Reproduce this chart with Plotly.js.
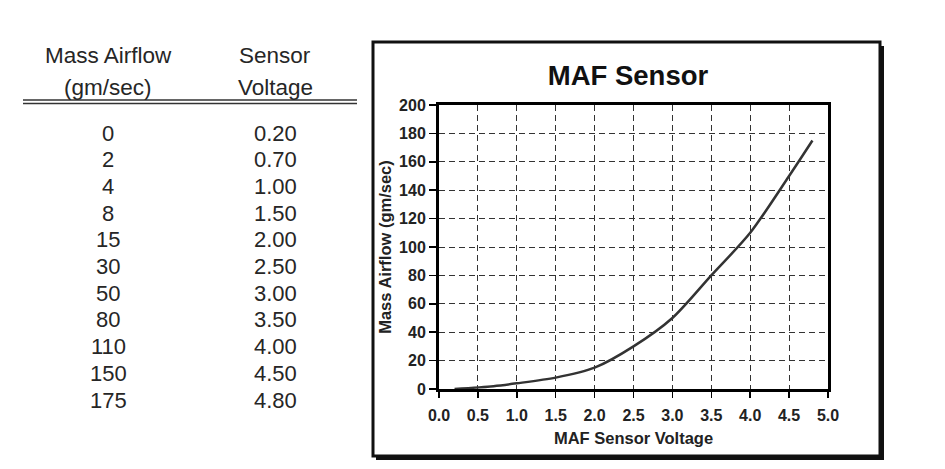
<!DOCTYPE html>
<html>
<head>
<meta charset="utf-8">
<script src="https://cdn.plot.ly/plotly-3.0.1.min.js"></script>
<style>html,body{margin:0;padding:0;background:#fff;}#chart{width:945px;height:469px;}</style>
</head>
<body>
<div id="chart"></div>
<script>
// ---- data ----
const massAirflow = [0, 2, 4, 8, 15, 30, 50, 80, 110, 150, 175];
const sensorVoltage = [0.20, 0.70, 1.00, 1.50, 2.00, 2.50, 3.00, 3.50, 4.00, 4.50, 4.80];
const tableHeaders = [["Mass Airflow", "(gm/sec)"], ["Sensor", "Voltage"]];
const chartTitle = "MAF Sensor";
const xTitle = "MAF Sensor Voltage";
const yTitle = "Mass Airflow (gm/sec)";

// ---- geometry helpers (pixel -> paper) ----
const W = 945, H = 469;
const PL = 439, PR = 828, PT = 105, PB = 389;
const px = x => (x - PL) / (PR - PL);
const py = y => (PB - y) / (PB - PT);

const font = "Arial, 'Liberation Sans', sans-serif";
const tcol = '#262626';
const annotations = [];
// table headers
const colX = [108, 275];
tableHeaders.forEach((lines, c) => {
  lines.forEach((t, r) => {
    annotations.push({xref:'paper', yref:'paper', x:px(colX[c]), y:py(56 + r*31), text:t,
      showarrow:false, xanchor:'center', yanchor:'middle', font:{family:font, size:22.5, color:tcol}});
  });
});
// table rows
massAirflow.forEach((m, i) => {
  const yy = py(133 + i * 26.7);
  annotations.push({xref:'paper', yref:'paper', x:px(colX[0]), y:yy, text:String(m), showarrow:false,
    xanchor:'center', yanchor:'middle', font:{family:font, size:22, color:tcol}});
  annotations.push({xref:'paper', yref:'paper', x:px(colX[1]), y:yy, text:sensorVoltage[i].toFixed(2), showarrow:false,
    xanchor:'center', yanchor:'middle', font:{family:font, size:22, color:tcol}});
});

const shapes = [
  // frame shadow
  {type:'rect', xref:'paper', yref:'paper', layer:'below', x0:px(376), x1:px(884), y0:py(46), y1:py(460),
   fillcolor:'#111', line:{width:0}},
  // frame
  {type:'rect', xref:'paper', yref:'paper', layer:'below', x0:px(373), x1:px(880), y0:py(42), y1:py(456),
   fillcolor:'#fff', line:{color:'#111', width:3}},
  // double rule under table header
  {type:'line', xref:'paper', yref:'paper', x0:px(23), x1:px(357), y0:py(100), y1:py(100), line:{color:'#333', width:1.5}},
  {type:'line', xref:'paper', yref:'paper', x0:px(23), x1:px(357), y0:py(103.5), y1:py(103.5), line:{color:'#333', width:1.5}}
];

const trace = {
  x: sensorVoltage, y: massAirflow, type:'scatter', mode:'lines',
  line:{color:'#333', width:2.5, shape:'spline', smoothing:0.8},
  hoverinfo:'x+y'
};

const layout = {
  width: W, height: H,
  margin:{l:PL, r:W-PR, t:PT, b:H-PB, pad:0},
  paper_bgcolor:'rgba(0,0,0,0)', plot_bgcolor:'#fff',
  showlegend:false,
  title:{text:chartTitle, x:px(628), xref:'paper', y:1-75/H, yanchor:'middle',
    font:{family:font, size:27.5, color:'#111', weight:'bold'}},
  xaxis:{range:[0,5], dtick:0.5, tick0:0, tickformat:'.1f', showgrid:true, gridcolor:'#333', gridwidth:1,
    griddash:'6px,4px', zeroline:false, showline:true, mirror:true, linecolor:'#000', linewidth:3,
    ticks:'outside', ticklen:6, tickcolor:'#000', tickwidth:1.5, ticklabelstandoff:4,
    tickfont:{family:font, size:16, color:'#222', weight:'bold'},
    title:{text:xTitle, standoff:10, font:{family:font, size:16.5, color:'#222', weight:'bold'}}},
  yaxis:{range:[0,200], dtick:20, tick0:0, showgrid:true, gridcolor:'#333', gridwidth:1,
    griddash:'6px,4px', zeroline:false, showline:true, mirror:true, linecolor:'#000', linewidth:3,
    ticks:'outside', ticklen:7, tickcolor:'#000', tickwidth:1.5,
    tickfont:{family:font, size:16, color:'#222', weight:'bold'},
    title:{text:yTitle, standoff:4, font:{family:font, size:16.5, color:'#222', weight:'bold'}}},
  shapes: shapes,
  annotations: annotations
};

Plotly.newPlot('chart', [trace], layout, {staticPlot:true, displayModeBar:false});
</script>
</body>
</html>
